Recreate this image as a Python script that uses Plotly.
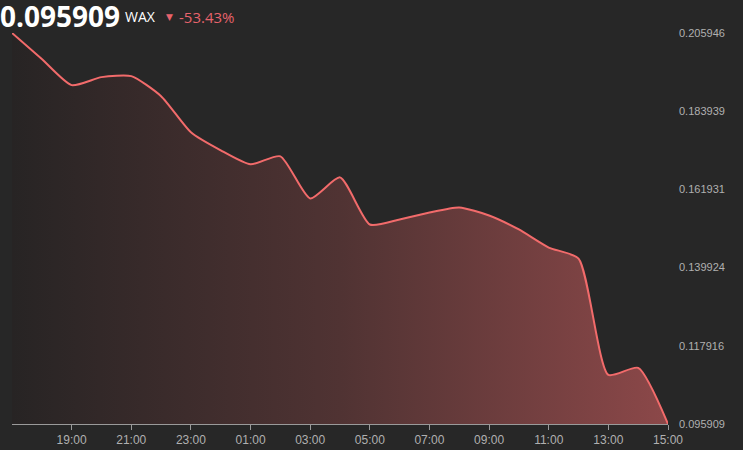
import plotly.graph_objects as go

times = [
    "2024-01-01 17:00", "2024-01-01 18:00", "2024-01-01 19:00", "2024-01-01 20:00",
    "2024-01-01 21:00", "2024-01-01 22:00", "2024-01-01 23:00", "2024-01-02 00:00",
    "2024-01-02 01:00", "2024-01-02 02:00", "2024-01-02 03:00", "2024-01-02 04:00",
    "2024-01-02 05:00", "2024-01-02 06:00", "2024-01-02 07:00", "2024-01-02 08:00",
    "2024-01-02 09:00", "2024-01-02 10:00", "2024-01-02 11:00", "2024-01-02 12:00",
    "2024-01-02 13:00", "2024-01-02 14:00", "2024-01-02 15:00",
]
prices = [
    0.205946, 0.19861, 0.19127, 0.19353, 0.19381, 0.18817, 0.17801, 0.17293,
    0.16898, 0.17124, 0.15939, 0.16532, 0.15206, 0.15347, 0.15544, 0.15685,
    0.15460, 0.15065, 0.14557, 0.14246, 0.10974, 0.11171, 0.095909,
]
x_tick_vals = [
    "2024-01-01 19:00", "2024-01-01 21:00", "2024-01-01 23:00", "2024-01-02 01:00",
    "2024-01-02 03:00", "2024-01-02 05:00", "2024-01-02 07:00", "2024-01-02 09:00",
    "2024-01-02 11:00", "2024-01-02 13:00", "2024-01-02 15:00",
]
x_tick_text = ["19:00", "21:00", "23:00", "01:00", "03:00", "05:00", "07:00",
               "09:00", "11:00", "13:00", "15:00"]
y_tick_vals = [0.095909, 0.117916, 0.139924, 0.161931, 0.183939, 0.205946]
y_tick_text = ["0.095909", "0.117916", "0.139924", "0.161931", "0.183939", "0.205946"]

price_text = "0.095909"
symbol_text = "WAX"
change_text = "-53.43%"

BG = "#272727"
LINE = "#f26b6b"

fig = go.Figure()
fig.add_trace(go.Scatter(
    x=times, y=prices, mode="lines",
    line=dict(color=LINE, width=2, shape="spline", smoothing=0.6),
    fill="tozeroy",
    fillgradient=dict(type="horizontal",
                      colorscale=[[0, "rgba(39,36,36,1)"], [0.5, "rgba(80,51,51,1)"],
                                  [1, "rgba(140,72,73,1)"]]),
    cliponaxis=False,
    hoverinfo="skip",
))

L, R, T, B = 12, 75, 33, 26
W, H = 743, 450
pw = W - L - R
ph = H - T - B

fig.update_layout(
    width=W, height=H,
    margin=dict(l=L, r=R, t=T, b=B, autoexpand=False),
    paper_bgcolor=BG, plot_bgcolor=BG,
    showlegend=False,
    font=dict(family="Liberation Sans, Arial, sans-serif", color="#b0b0b0", size=11),
    xaxis=dict(
        type="date",
        range=[times[0], times[-1]],
        tickvals=x_tick_vals, ticktext=x_tick_text,
        showgrid=False, zeroline=False,
        showline=True, linecolor="#9a9a9a", linewidth=1,
        ticks="outside", ticklen=5, tickcolor="#9a9a9a",
        tickfont=dict(size=12, color="#b0b0b0"),
        fixedrange=True, automargin=False,
    ),
    yaxis=dict(
        range=[y_tick_vals[0], y_tick_vals[-1]],
        side="right",
        tickvals=y_tick_vals, ticktext=y_tick_text,
        showgrid=False, zeroline=False, showline=False,
        ticks="", ticklabelstandoff=10,
        tickfont=dict(size=11, color="#b0b0b0"),
        fixedrange=True, automargin=False,
    ),
    annotations=[
        dict(text=f"<b>{price_text}</b>", xref="paper", yref="paper",
             x=-(L + 1) / pw, y=1 + 17 / ph, xanchor="left", yanchor="middle",
             borderpad=0, showarrow=False,
             font=dict(family="Open Sans, sans-serif", size=28, color="#ffffff")),
        dict(text=symbol_text, xref="paper", yref="paper",
             x=(123 - L) / pw, y=1 + 16 / ph, xanchor="left", yanchor="middle",
             showarrow=False, font=dict(family="Open Sans, sans-serif", size=14, color="#ffffff")),
        dict(text="▼", xref="paper", yref="paper",
             x=(164 - L) / pw, y=1 + 16 / ph, xanchor="left", yanchor="middle",
             showarrow=False, font=dict(family="DejaVu Sans, sans-serif", size=9, color="#e8636c")),
        dict(text=change_text, xref="paper", yref="paper",
             x=(177 - L) / pw, y=1 + 16 / ph, xanchor="left", yanchor="middle",
             showarrow=False, font=dict(family="Open Sans, sans-serif", size=15, color="#e8636c")),
    ],
)

fig.write_html("out.html", config={"displayModeBar": False},
               post_script="document.body.style.margin='0';document.body.style.background='#272727';")
